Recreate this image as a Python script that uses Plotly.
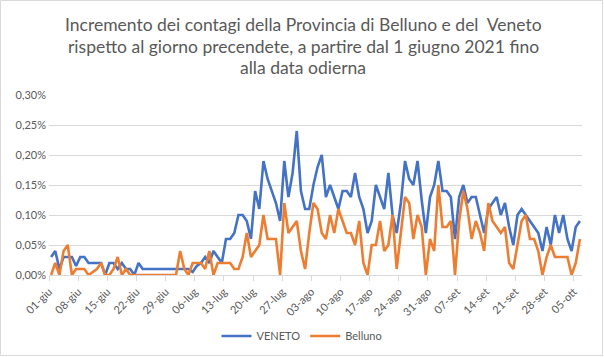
import pandas as pd
import plotly.graph_objects as go

# ---- data (percent values, one per day from 01-06-2021) ----
veneto_pct = [
    0.03, 0.04, 0.01, 0.03, 0.03, 0.03, 0.015, 0.03, 0.03, 0.02,
    0.02, 0.02, 0.02, 0.00, 0.02, 0.02, 0.01, 0.02, 0.01, 0.01,
    0.00, 0.02, 0.01, 0.01, 0.01, 0.01, 0.01, 0.01, 0.01, 0.01,
    0.01, 0.01, 0.01, 0.01, 0.005, 0.015, 0.02, 0.03, 0.02, 0.04,
    0.03, 0.02, 0.06, 0.06, 0.07, 0.10, 0.10, 0.09, 0.06, 0.14,
    0.11, 0.19, 0.16, 0.14, 0.12, 0.09, 0.19, 0.13, 0.17, 0.24,
    0.14, 0.11, 0.11, 0.15, 0.18, 0.20, 0.13, 0.15, 0.13, 0.11,
    0.14, 0.14, 0.13, 0.17, 0.13, 0.11, 0.07, 0.09, 0.15, 0.13,
    0.11, 0.17, 0.10, 0.07, 0.12, 0.19, 0.16, 0.15, 0.19, 0.125,
    0.07, 0.13, 0.15, 0.19, 0.14, 0.14, 0.13, 0.06, 0.13, 0.15,
    0.12, 0.13, 0.13, 0.10, 0.07, 0.11, 0.12, 0.13, 0.10, 0.12,
    0.08, 0.05, 0.10, 0.11, 0.10, 0.09, 0.08, 0.07, 0.04, 0.08,
    0.05, 0.10, 0.07, 0.10, 0.06, 0.04, 0.08, 0.09,
]
belluno_pct = [
    0.00, 0.02, 0.00, 0.04, 0.05, 0.00, 0.01, 0.01, 0.01, 0.00,
    0.005, 0.01, 0.02, 0.00, 0.00, 0.01, 0.03, 0.00, 0.01, 0.00,
    0.00, 0.00, 0.00, 0.00, 0.00, 0.00, 0.00, 0.00, 0.00, 0.00,
    0.00, 0.04, 0.01, 0.00, 0.02, 0.02, 0.02, 0.01, 0.04, 0.00,
    0.02, 0.02, 0.02, 0.02, 0.01, 0.01, 0.03, 0.07, 0.03, 0.04,
    0.05, 0.10, 0.06, 0.06, 0.06, 0.00, 0.12, 0.07, 0.08, 0.09,
    0.04, 0.01, 0.07, 0.12, 0.11, 0.07, 0.06, 0.10, 0.07, 0.11,
    0.09, 0.07, 0.07, 0.05, 0.09, 0.02, 0.00, 0.05, 0.05, 0.09,
    0.04, 0.05, 0.10, 0.01, 0.07, 0.13, 0.12, 0.06, 0.10, 0.08,
    0.00, 0.06, 0.04, 0.15, 0.08, 0.08, 0.09, 0.00, 0.09, 0.14,
    0.11, 0.06, 0.09, 0.07, 0.04, 0.12, 0.09, 0.08, 0.07, 0.08,
    0.02, 0.01, 0.05, 0.09, 0.10, 0.06, 0.06, 0.04, 0.00, 0.03,
    0.05, 0.03, 0.03, 0.03, 0.03, 0.00, 0.02, 0.06,
]
start_date = "2021-06-01"
tick_labels = ["01-giu", "08-giu", "15-giu", "22-giu", "29-giu", "06-lug",
               "13-lug", "20-lug", "27-lug", "03-ago", "10-ago", "17-ago",
               "24-ago", "31-ago", "07-set", "14-set", "21-set", "28-set",
               "05-ott"]
y_ticks_pct = [0.00, 0.05, 0.10, 0.15, 0.20, 0.25, 0.30]
title_lines = [
    "Incremento dei contagi della Provincia di Belluno e del  Veneto",
    "rispetto al giorno precendete, a partire dal 1 giugno 2021 fino",
    "alla data odierna",
]

# ---- build ----
n = len(veneto_pct)
days = pd.date_range(start_date, periods=n, freq="D")
x_pts = days + pd.Timedelta(hours=12)          # points centred in their day
tick_dates = pd.date_range(start_date, periods=len(tick_labels), freq="7D")
veneto = [v / 100 for v in veneto_pct]
belluno = [v / 100 for v in belluno_pct]

W, H = 604, 357
ML, MR, MT, MB = 49, 22, 95, 82
pw, ph = W - ML - MR, H - MT - MB


def py(px):  # pixel row -> paper y
    return (H - MB - px) / ph


def pxx(px):  # pixel column -> paper x
    return (px - ML) / pw


FONT = "Lato, Carlito, Calibri, sans-serif"

fig = go.Figure()
fig.add_trace(go.Scatter(x=x_pts, y=veneto, mode="lines", name="VENETO",
                         line=dict(color="#4472C4", width=2.6)))
fig.add_trace(go.Scatter(x=x_pts, y=belluno, mode="lines", name="Belluno",
                         line=dict(color="#ED7D31", width=2.6)))

title_y = [24.5, 46, 67]
annotations = [
    dict(text=t, xref="paper", yref="paper", x=pxx(W / 2 + 1), y=py(yy),
         xanchor="center", yanchor="middle", showarrow=False,
         font=dict(family=FONT, size=17.5, color="#595959"))
    for t, yy in zip(title_lines, title_y)
]

fig.update_layout(
    width=W, height=H,
    margin=dict(l=ML, r=MR, t=MT, b=MB, autoexpand=False),
    paper_bgcolor="white", plot_bgcolor="white",
    separators=",.",
    font=dict(family=FONT, color="#595959"),
    annotations=annotations,
    showlegend=True,
    legend=dict(orientation="h", x=pxx(302), xanchor="center",
                y=py(336), yanchor="middle",
                font=dict(size=11, color="#595959"),
                itemwidth=30, traceorder="normal", tracegroupgap=0),
    xaxis=dict(
        type="date",
        range=[days[0], days[-1] + pd.Timedelta(days=1)],
        tickvals=tick_dates, ticktext=tick_labels,
        tickangle=-45, tickfont=dict(size=11, color="#595959"),
        showgrid=False, showline=True, linecolor="#D9D9D9", linewidth=1,
        ticks="outside", ticklen=5, tickcolor="#D9D9D9",
        zeroline=False, fixedrange=True,
    ),
    yaxis=dict(
        range=[0, 0.003], tickvals=[v / 100 for v in y_ticks_pct],
        tickformat=".2%", tickfont=dict(size=11, color="#595959"),
        showgrid=True, gridcolor="#D9D9D9", gridwidth=1,
        zeroline=False, showline=False, ticks="", ticklen=0,
        ticklabelstandoff=2, fixedrange=True,
    ),
    shapes=[dict(type="rect", xref="paper", yref="paper",
                 x0=pxx(0.5), x1=pxx(W - 1.5),
                 y0=py(H - 1.5), y1=py(0.5),
                 line=dict(color="#D9D9D9", width=1), layer="below")],
)

fig.write_html(
    "out.html",
    config={"displayModeBar": False},
    post_script="document.body.style.margin='0';document.body.style.padding='0';"
                "document.body.style.overflow='hidden';",
)
